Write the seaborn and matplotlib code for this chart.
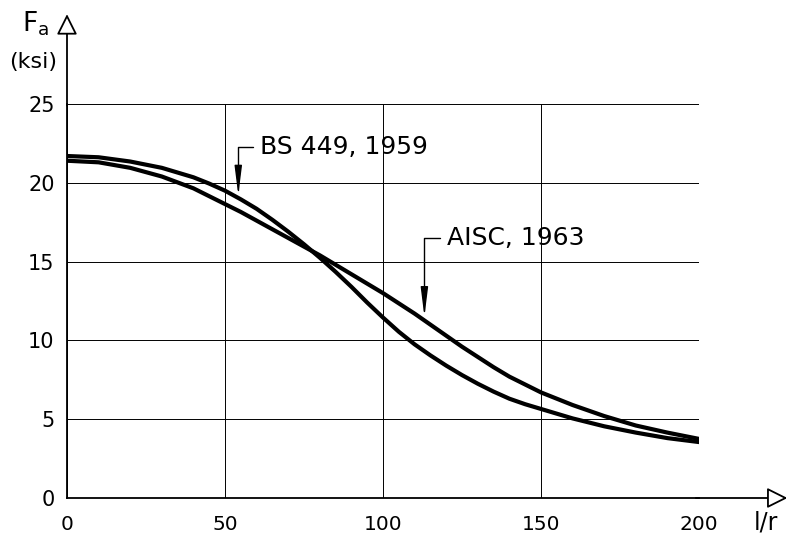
"""
Allowable axial stress Fa versus slenderness l/r: AISC 1963 vs BS 449 1959
"""

import matplotlib
matplotlib.use('Agg')
import matplotlib.pyplot as plt
import seaborn as sns
import pandas as pd

# 数据
slenderness = [0, 10, 20, 30, 40, 45, 50, 55, 60, 65, 70, 75, 80, 85, 90, 95,
               100, 105, 110, 115, 120, 125, 130, 135, 140, 145, 150,
               160, 170, 180, 190, 200]
fa_aisc = [21.4, 21.3, 20.95, 20.4, 19.65, 19.15, 18.65, 18.15, 17.6, 17.05, 16.5,
           15.95, 15.4, 14.8, 14.2, 13.6, 13.0, 12.35, 11.7, 11.0, 10.3, 9.6,
           8.95, 8.3, 7.7, 7.2, 6.7, 5.9, 5.2, 4.6, 4.15, 3.75]
fa_bs = [21.7, 21.62, 21.35, 20.95, 20.35, 19.95, 19.5, 18.95, 18.35, 17.65, 16.9,
         16.1, 15.25, 14.35, 13.4, 12.4, 11.45, 10.55, 9.75, 9.05, 8.4, 7.8,
         7.25, 6.75, 6.3, 5.95, 5.65, 5.05, 4.55, 4.15, 3.8, 3.55]

x_ticks = [0, 50, 100, 150, 200]
y_ticks = [0, 5, 10, 15, 20, 25]

df = pd.DataFrame({
    'l/r': slenderness * 2,
    'Fa': fa_aisc + fa_bs,
    'code': ['AISC, 1963'] * len(slenderness) + ['BS 449, 1959'] * len(slenderness),
})

sns.set_style('white')
plt.rcParams['font.family'] = ['DejaVu Sans']
plt.rcParams['text.color'] = 'black'
plt.rcParams['xtick.color'] = 'black'
plt.rcParams['ytick.color'] = 'black'

fig = plt.figure(figsize=(7.86, 5.35), dpi=100)
ax = fig.add_axes([67 / 786, 37 / 535, 632 / 786, 394 / 535])

sns.lineplot(data=df, x='l/r', y='Fa', units='code', estimator=None,
             color='black', linewidth=3.0, legend=False, ax=ax)

ax.set_xlim(0, 200)
ax.set_ylim(0, 25)
ax.set_xticks(x_ticks)
ax.set_yticks(y_ticks)
ax.set_xticklabels([str(v) for v in x_ticks], fontsize=14.5)
ax.set_yticklabels([str(v) for v in y_ticks], fontsize=15)
ax.tick_params(axis='x', length=0, pad=12)
ax.tick_params(axis='y', length=0, pad=9)
ax.grid(True, color='black', linewidth=0.7)
ax.set_axisbelow(True)
ax.set_xlabel('')
ax.set_ylabel('')

for side in ['top', 'right']:
    ax.spines[side].set_visible(False)
for side in ['left', 'bottom']:
    ax.spines[side].set_linewidth(1.3)
    ax.spines[side].set_color('black')

# 坐标轴箭头（空心三角）
head = dict(arrowstyle='-|>,head_length=0.9,head_width=0.45', fc='white',
            ec='black', lw=1.3, shrinkA=0, shrinkB=0, mutation_scale=14)
ax.annotate('', xy=(0, 30.7), xytext=(0, 24.9), arrowprops=head,
            annotation_clip=False)
ax.annotate('', xy=(228, 0), xytext=(199, 0), arrowprops=head,
            annotation_clip=False)

# 轴标签
fig.text(22 / 786, 1 - 24 / 535, r'F$_\mathregular{a}$', fontsize=19,
         ha='left', va='center')
fig.text(33 / 786, 1 - 62 / 535, '(ksi)', fontsize=16, ha='center', va='center')
fig.text(766 / 786, 1 - 523 / 535, 'l/r', fontsize=17, ha='center', va='center')

# 曲线标注（引线 + 实心箭头）
lead = dict(arrowstyle='-|>,head_length=1.6,head_width=0.2', fc='black',
            ec='black', lw=1.0, shrinkA=3, shrinkB=0, mutation_scale=11,
            connectionstyle='angle,angleA=180,angleB=90,rad=0', relpos=(0, 0.5))
ax.annotate('BS 449, 1959', xy=(54.2, 19.2), xytext=(61.1, 22.27),
            fontsize=18, ha='left', va='center', arrowprops=lead)
ax.annotate('AISC, 1963', xy=(113.1, 11.5), xytext=(120.3, 16.5),
            fontsize=18, ha='left', va='center', arrowprops=lead)

plt.savefig('out.png', dpi=100)
plt.close()
